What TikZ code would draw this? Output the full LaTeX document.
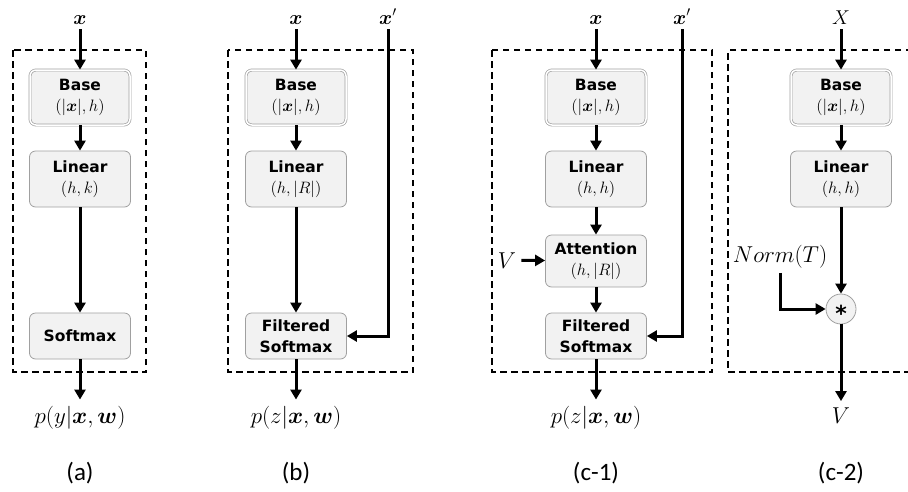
\RequirePackage{fix-cm}
\documentclass[tikz,border=0pt]{standalone}
\usepackage{amsmath}
\usepackage{fontspec}
\setsansfont{DejaVu Sans}
\newfontfamily\capfont{Carlito}
\usetikzlibrary{arrows.meta}
\definecolor{boxfill}{HTML}{F2F2F2}
\definecolor{boxline}{HTML}{A0A0A0}
\newcommand{\dims}[1]{{\normalfont\fontsize{16.5}{21}\selectfont$#1$}}

\tikzset{
  block/.style={draw=boxline,line width=.8pt,fill=boxfill,rounded corners=6pt,minimum width=101pt,
    align=center,inner sep=2pt,font=\fontsize{15.5}{21}\selectfont\sffamily\bfseries},
  baseblock/.style={block,line width=.7pt,double=white,double distance=1.5pt,minimum width=100pt,minimum height=55pt},
  mulnode/.style={circle,draw=boxline,line width=.8pt,fill=boxfill,minimum size=30pt,inner sep=0pt,
    text height=0pt,text depth=0pt,font=\fontsize{22}{22}\selectfont\sffamily\bfseries},
  arr/.style={line width=3pt,-{Triangle[length=10pt,width=11pt]}},
  dashbox/.style={line width=1.3pt,dash pattern=on 6.5pt off 4.5pt},
  inlab/.style={anchor=base,inner sep=5pt,font=\fontsize{20}{22}\selectfont},
  outlab/.style={anchor=base,inner sep=6pt,font=\fontsize{23}{25}\selectfont},
  caplab/.style={anchor=base,font=\capfont\fontsize{25}{28}\selectfont}
}

\begin{document}
\begin{tikzpicture}[x=1pt,y=-1pt]
\useasboundingbox (0,0) rectangle (908,491);
% dashed frames
\foreach \l/\r in {13/146,228/413,492/712}{\draw[dashbox] (\l,50) rectangle (\r,372);}
\draw[dashbox] (912,50) -| (728,372) -- (912,372);

% common part: input, Base, Linear
\foreach \p/\cx/\inp/\lin in {a/80/{\boldsymbol{x}}/{(h,k)},b/296/{\boldsymbol{x}}/{(h,|R|)},c/596/{\boldsymbol{x}}/{(h,h)},d/841/{X}/{(h,h)}}{
  \node[inlab] (x\p) at (\cx,24) {$\inp$};
  \node[baseblock] (base\p) at (\cx,97.5) {Base\\\dims{(|\boldsymbol{x}|,h)}};
  \node[block,minimum height=56pt] (lin\p) at (\cx,179) {Linear\\\dims{\lin}};
  \draw[arr] (x\p) -- (base\p);
  \draw[arr] (base\p) -- (lin\p);
}

% (a)
\node[block,minimum height=46pt] (sma) at (80,336) {Softmax};
\node[outlab] (pa) at (80,423) {$p(y|\boldsymbol{x},\boldsymbol{w})$};
\draw[arr] (lina) -- (sma);
\draw[arr] (sma) -- (pa);

% (b)
\node[block,minimum height=46pt] (fsb) at (296,336) {Filtered\\Softmax};
\node[inlab] (xpb) at (388,24) {$\boldsymbol{x}'$};
\node[outlab] (pb) at (296,423) {$p(z|\boldsymbol{x},\boldsymbol{w})$};
\draw[arr] (linb) -- (fsb);
\draw[arr] (xpb) |- (fsb);
\draw[arr] (fsb) -- (pb);

% (c-1)
\node[block,minimum height=52pt] (attc) at (596,261) {Attention\\\dims{(h,|R|)}};
\node[block,minimum height=46pt] (fsc) at (596,336) {Filtered\\Softmax};
\node[inlab,font=\fontsize{23}{25}\selectfont] (vc) at (507,268) {$V$};
\node[inlab] (xpc) at (682,24) {$\boldsymbol{x}'$};
\node[outlab] (pc) at (596,423) {$p(z|\boldsymbol{x},\boldsymbol{w})$};
\draw[arr] (linc) -- (attc);
\draw[arr] (vc) -- (attc);
\draw[arr] (attc) -- (fsc);
\draw[arr] (xpc) |- (fsc);
\draw[arr] (fsc) -- (pc);

% (c-2)
\node[mulnode] (muld) at (841,309) {\raisebox{-.55em}{*}};
\node[inlab,font=\fontsize{23}{25}\selectfont] (normd) at (780,262) {$Norm(T)$};
\node[outlab] (vd) at (841,423) {$V$};
\draw[arr] (lind) -- (muld);
\draw[arr] (normd) |- (muld);
\draw[arr] (muld) -- (vd);

% captions
\foreach \cx/\cap in {80/(a),296/(b),596/(c-1),841/(c-2)}{\node[caplab] (cap\cx) at (\cx,480) {\cap};}
\end{tikzpicture}
\end{document}
